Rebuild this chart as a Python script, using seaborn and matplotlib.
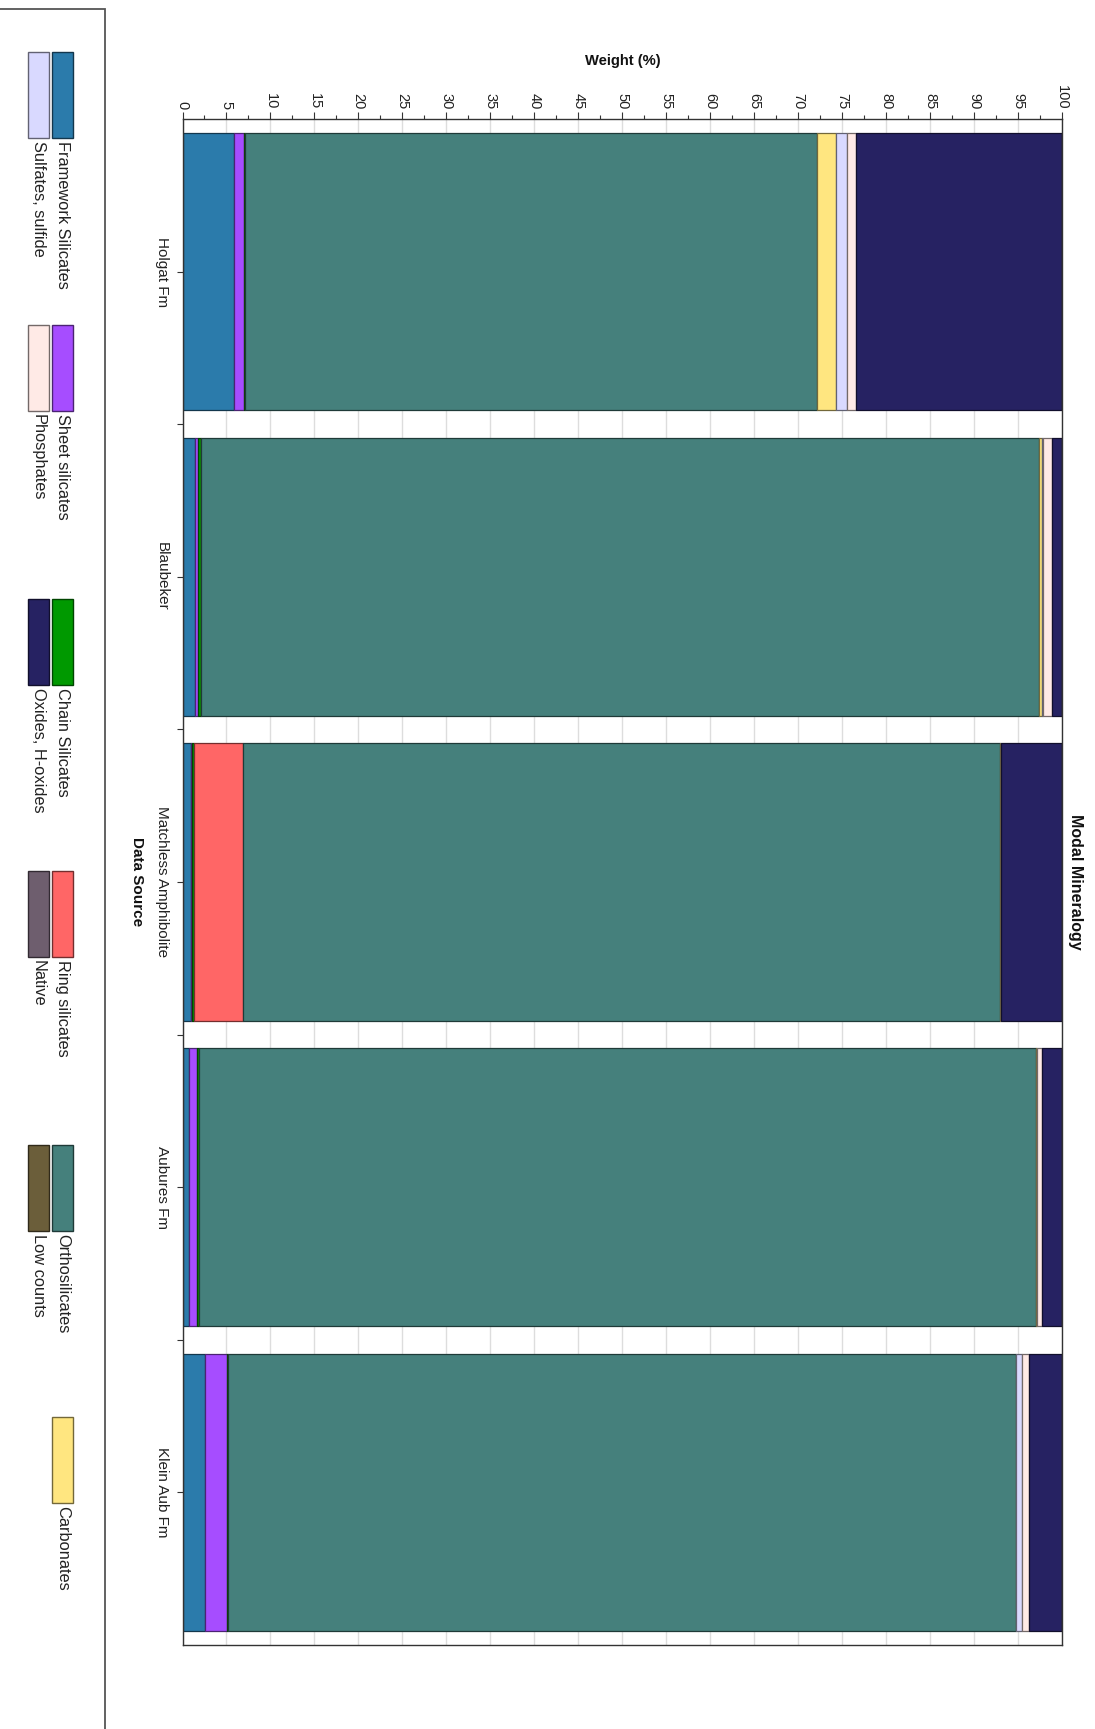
import matplotlib
matplotlib.use("Agg")
import matplotlib.pyplot as plt
import matplotlib.colors as mcolors
from matplotlib.patches import Rectangle
from matplotlib.ticker import MultipleLocator, FixedLocator
import seaborn as sns
import pandas as pd

# ---- data -------------------------------------------------------------
sources = ["Holgat Fm", "Blaubeker", "Matchless Amphibolite", "Aubures Fm", "Klein Aub Fm"]

minerals = ["Framework Silicates", "Sheet silicates", "Chain Silicates", "Ring silicates",
            "Orthosilicates", "Carbonates", "Sulfates, sulfide", "Phosphates",
            "Oxides, H-oxides", "Native", "Low counts"]

colors = ["#2b7bab", "#a64dff", "#009900", "#ff6666", "#45807c", "#ffe680",
          "#d9d9ff", "#ffeae6", "#262262", "#6e5e6e", "#6b5e3a"]

framework = [5.9, 1.4, 1.0, 0.75, 2.6]
sheet = [1.1, 0.4, 0.05, 0.95, 2.5]
chain = [0.1, 0.25, 0.3, 0.2, 0.1]
ring = [0.0, 0.0, 5.5, 0.0, 0.0]
ortho = [65.0, 95.3, 86.05, 95.2, 89.6]
carbonates = [2.2, 0.4, 0.2, 0.05, 0.0]
sulfates = [1.3, 0.1, 0.0, 0.0, 0.6]
phosphates = [1.0, 1.0, 0.0, 0.6, 0.9]
oxides = [23.4, 1.15, 6.9, 2.25, 3.7]
native = [0.0, 0.0, 0.0, 0.0, 0.0]
low_counts = [0.0, 0.0, 0.0, 0.0, 0.0]

series = [framework, sheet, chain, ring, ortho, carbonates, sulfates,
          phosphates, oxides, native, low_counts]

rows = []
for name, vals in zip(minerals, series):
    for src, v in zip(sources, vals):
        rows.append({"source": src, "mineral": name, "weight": v})
df = pd.DataFrame(rows)
palette = dict(zip(minerals, colors))

# ---- styling ----------------------------------------------------------
sns.set_theme(style="white")
plt.rcParams["font.family"] = ["Liberation Sans", "DejaVu Sans"]

W, H = 1095, 1729
fig = plt.figure(figsize=(W / 100, H / 100), dpi=100)
fig.patch.set_facecolor("white")


def fx(px):
    return px / W


def fy(py):
    return 1 - py / H


ax = fig.add_axes([fx(182.5), fy(1645), fx(1062) - fx(182.5), fy(119) - fy(1645)])

# seaborn stacks the first hue level on top, so the order is reversed
sns.histplot(data=df, y="source", weights="weight", hue="mineral",
             hue_order=minerals[::-1], palette=palette, multiple="stack",
             discrete=True, shrink=0.91, alpha=1, linewidth=0.9,
             legend=False, ax=ax)

for p in ax.patches:
    r, g, b, _ = p.get_facecolor()
    p.set_edgecolor((r * 0.45, g * 0.45, b * 0.45, 1))

ax.set_xlim(0, 100)
ax.set_ylim(4.5, -0.5)
ax.set_xlabel("")
ax.set_ylabel("")

ax.xaxis.tick_top()
ax.xaxis.set_major_locator(MultipleLocator(5))
ax.xaxis.set_minor_locator(MultipleLocator(2.5))
ax.tick_params(axis="x", which="major", top=True, bottom=False, length=5,
               width=0.8, color="#333333", pad=2, labelsize=10.5,
               labelrotation=-90, labelcolor="#222222")
ax.tick_params(axis="x", which="minor", top=True, bottom=False, length=3,
               width=0.8, color="#333333")
for lbl in ax.get_xticklabels():
    lbl.set_va("bottom")
    lbl.set_ha("center")

ax.set_yticks(range(len(sources)))
ax.set_yticklabels(sources, rotation=-90, va="center", ha="right")
ax.yaxis.set_minor_locator(FixedLocator([0.5, 1.5, 2.5, 3.5]))
ax.tick_params(axis="y", which="both", left=True, length=4, width=0.8,
               color="#333333", pad=6, labelsize=11, labelcolor="#222222")

ax.grid(axis="x", which="major", color="#dddddd", linewidth=1)
ax.grid(axis="y", visible=False)
ax.set_axisbelow(True)
for s in ax.spines.values():
    s.set_color("#333333")
    s.set_linewidth(1)

# ---- titles -----------------------------------------------------------
fig.text(fx(1075), fy(882), "Modal Mineralogy", rotation=-90, ha="center",
         va="center", fontsize=11.5, fontweight="bold", color="#111111")
fig.text(fx(623), fy(61), "Weight (%)", ha="center", va="center",
         fontsize=10.6, fontweight="bold", color="#111111")
fig.text(fx(137), fy(882), "Data Source", rotation=-90, ha="center",
         va="center", fontsize=11, fontweight="bold", color="#111111")

# ---- legend (rotated, two rows of six) --------------------------------
fig.add_artist(Rectangle((fx(-10), fy(1760)), fx(115), fy(9) - fy(1760),
                         transform=fig.transFigure, fill=False,
                         edgecolor="#555555", linewidth=1.3))
col_starts = [52, 325, 599, 871, 1145, 1417]
row_x = [(52, 73), (27.5, 48.5)]
patch_len = 86
for i, (name, col) in enumerate(zip(minerals, colors)):
    row, c = divmod(i, 6)
    x0, x1 = row_x[row]
    y0 = col_starts[c]
    r, g, b = mcolors.to_rgb(col)
    fig.add_artist(Rectangle((fx(x0), fy(y0 + patch_len)), fx(x1 - x0),
                             fy(y0) - fy(y0 + patch_len),
                             transform=fig.transFigure, facecolor=col,
                             edgecolor=(r * 0.45, g * 0.45, b * 0.45),
                             linewidth=1))
    fig.text(fx((x0 + x1) / 2), fy(y0 + patch_len + 3), name, rotation=-90,
             ha="center", va="top", fontsize=11.8, color="#222222")

fig.savefig("out.png", dpi=100, facecolor="white")
